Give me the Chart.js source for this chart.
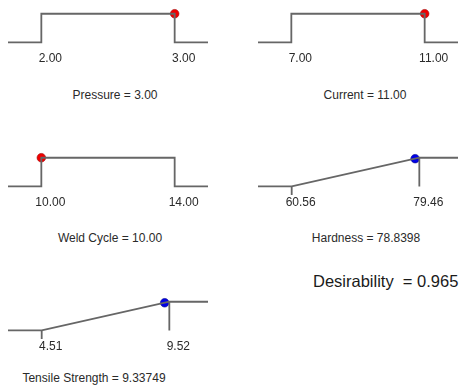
<!DOCTYPE html>
<html lang="en">
<head>
    <meta charset="UTF-8">
    <title>Desirability Ramps</title>
    <script src="https://cdn.jsdelivr.net/npm/chart.js"></script>
    <style>
        body {
            margin: 0;
            width: 459px;
            height: 389px;
            background: white;
            font-family: "Liberation Sans", Arial, sans-serif;
            color: #2a2a2a;
            position: relative;
            overflow: hidden;
        }
        canvas {
            position: absolute;
        }
        .label {
            position: absolute;
            font-size: 12px;
            white-space: nowrap;
            transform: translateX(-50%);
        }
        #desirability {
            position: absolute;
            font-size: 16.5px;
            white-space: pre;
            color: #1a1a1a;
        }
    </style>
</head>
<body>
    <div id="desirability"></div>
    <script>
        const factors = ["Pressure", "Current", "Weld Cycle", "Hardness", "Tensile Strength"];
        const lows = [2.00, 7.00, 10.00, 60.56, 4.51];
        const highs = [3.00, 11.00, 14.00, 79.46, 9.52];
        const goals = ["range", "range", "range", "max", "max"];
        const settings = [3.00, 11.00, 10.00, 78.8398, 9.33749];
        const settingText = ["3.00", "11.00", "10.00", "78.8398", "9.33749"];
        const settingD = [1, 1, 1, 0.967, 0.964];
        const isResponse = [false, false, false, true, true];
        const desirability = "0.965";

        // where each small panel sits on the page
        const panelLeft = [8, 258, 8, 258, 8];
        const panelTop = [8, 8, 152, 152, 296];
        const titleX = [115, 365, 110, 366, 94];
        const titleY = [88, 88, 231, 231, 371];

        function profile(i) {
            const lo = lows[i], hi = highs[i];
            const r = hi - lo;
            const xmin = lo - (isResponse[i] ? 0.264 : 0.25) * r;
            const xmax = hi + (isResponse[i] ? 0.303 : 0.25) * r;
            let line, lowMark = [], highMark = [];
            if (goals[i] === "range") {
                line = [{x: xmin, y: 0}, {x: lo, y: 0}, {x: lo, y: 1}, {x: hi, y: 1}, {x: hi, y: 0}, {x: xmax, y: 0}];
            } else {
                line = [{x: xmin, y: 0}, {x: lo, y: 0}, {x: hi, y: 1}, {x: xmax, y: 1}];
                lowMark = [{x: lo, y: 0}, {x: lo, y: -0.3}];
                highMark = [{x: hi, y: 1}, {x: hi, y: 0}];
            }
            return {xmin, xmax, line, lowMark, highMark};
        }

        function lineSet(data) {
            return {
                data: data,
                showLine: true,
                borderColor: "#666",
                borderWidth: 1.8,
                pointRadius: 0,
                clip: false
            };
        }

        for (let i = 0; i < factors.length; i++) {
            const p = profile(i);
            const cv = document.createElement("canvas");
            cv.width = 200;
            cv.height = 63;
            cv.style.left = panelLeft[i] + "px";
            cv.style.top = panelTop[i] + "px";
            document.body.appendChild(cv);

            new Chart(cv.getContext("2d"), {
                type: "scatter",
                data: {
                    datasets: [
                        lineSet(p.line),
                        lineSet(p.lowMark),
                        lineSet(p.highMark),
                        {
                            data: [{x: settings[i], y: settingD[i]}],
                            pointRadius: 4.3,
                            pointBackgroundColor: isResponse[i] ? "#0000e6" : "#f00000",
                            pointBorderColor: isResponse[i] ? "#00008a" : "#a00000",
                            pointBorderWidth: 0.6,
                            clip: false
                        }
                    ]
                },
                options: {
                    responsive: false,
                    animation: false,
                    layout: { padding: 0, autoPadding: false },
                    plugins: { legend: { display: false }, tooltip: { enabled: false } },
                    scales: {
                        x: {
                            type: "linear",
                            min: p.xmin,
                            max: p.xmax,
                            grid: { display: false, drawTicks: false },
                            border: { display: false },
                            afterBuildTicks: s => { s.ticks = [{value: lows[i]}, {value: highs[i]}]; },
                            afterFit: s => { s.height = 20; },
                            ticks: {
                                padding: 0,
                                labelOffset: 9,
                                maxRotation: 0,
                                autoSkip: false,
                                color: "#2a2a2a",
                                font: { family: "Liberation Sans", size: 12 },
                                callback: v => v.toFixed(2)
                            }
                        },
                        y: { display: false, min: -0.3, max: 1.2 }
                    }
                }
            });

            const t = document.createElement("div");
            t.className = "label";
            t.style.left = titleX[i] + "px";
            t.style.top = titleY[i] + "px";
            t.textContent = factors[i] + " = " + settingText[i];
            document.body.appendChild(t);
        }

        const d = document.getElementById("desirability");
        d.style.left = "313px";
        d.style.top = "272px";
        d.textContent = "Desirability  = " + desirability;
    </script>
</body>
</html>
